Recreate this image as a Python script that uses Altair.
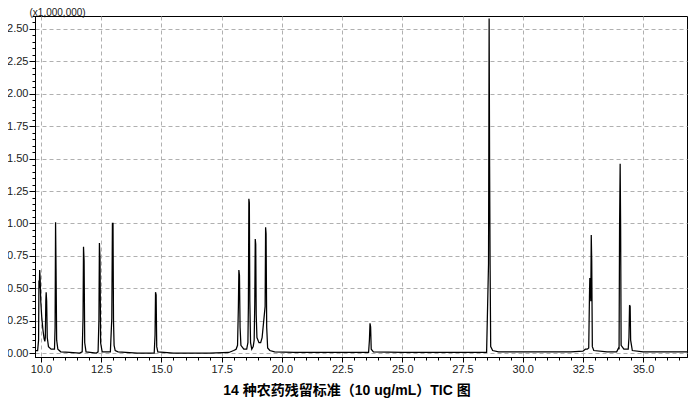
import altair as alt
import pandas as pd
import numpy as np

# Retention time (min) and TIC intensity (x1,000,000)
time_min = [
    9.75, 9.86, 9.90, 9.915, 9.93, 9.945, 9.965, 9.99, 10.03, 10.08, 10.13, 10.16,
    10.18, 10.20, 10.215, 10.235, 10.26, 10.31, 10.42, 10.56, 10.585, 10.605, 10.625,
    10.65, 10.70, 10.82, 11.2, 11.6, 11.71, 11.745, 11.765, 11.79, 11.815, 11.87,
    12.3, 12.37, 12.405, 12.425, 12.45, 12.475, 12.54, 12.88, 12.94, 12.965, 12.99,
    13.01, 13.035, 13.08, 13.2, 14.0, 14.70, 14.735, 14.755, 14.78, 14.805, 14.85,
    15.5, 17.0, 17.8, 18.0, 18.1, 18.16, 18.195, 18.215, 18.24, 18.265, 18.30, 18.42,
    18.54, 18.59, 18.61, 18.63, 18.65, 18.67, 18.70, 18.75, 18.81, 18.85, 18.875,
    18.895, 18.915, 18.935, 18.965, 19.05, 19.12, 19.18, 19.305, 19.325, 19.345, 19.37,
    19.41, 19.5, 19.7, 20.5, 23.0, 23.60, 23.635, 23.66, 23.685, 23.71, 23.80, 25.0,
    28.50, 28.58, 28.605, 28.625, 28.645, 28.67, 28.75, 29.0, 31.5, 32.0, 32.5, 32.6,
    32.68, 32.74, 32.77, 32.785, 32.795, 32.81, 32.825, 32.845, 32.865, 32.89, 32.95,
    33.5, 33.9, 33.98, 34.0, 34.02, 34.045, 34.065, 34.085, 34.2, 34.38, 34.41, 34.435,
    34.46, 34.48, 34.55, 35.0, 36.82,
]
intensity = [
    0.02, 0.02, 0.10, 0.56, 0.50, 0.64, 0.58, 0.40, 0.28, 0.18, 0.11, 0.09,
    0.12, 0.40, 0.47, 0.40, 0.12, 0.05, 0.03, 0.03, 0.20, 1.01, 0.65,
    0.10, 0.03, 0.01, 0.005, 0.0, 0.01, 0.27, 0.82, 0.71, 0.08, 0.01,
    0.0, 0.01, 0.26, 0.85, 0.73, 0.08, 0.01, 0.01, 0.27, 1.00, 1.00,
    0.25, 0.06, 0.02, 0.01, 0.0, 0.0, 0.14, 0.47, 0.45, 0.05, 0.01,
    0.0, 0.0, 0.005, 0.02, 0.03, 0.06, 0.36, 0.64, 0.60, 0.20, 0.06, 0.03,
    0.03, 0.08, 0.36, 1.19, 1.16, 0.40, 0.08, 0.03, 0.05, 0.10, 0.38,
    0.88, 0.84, 0.30, 0.12, 0.08, 0.08, 0.12, 0.36, 0.97, 0.92, 0.20,
    0.04, 0.02, 0.01, 0.005, 0.005, 0.005, 0.10, 0.23, 0.20, 0.03, 0.01, 0.005,
    0.005, 0.69, 2.58, 1.44, 0.69, 0.05, 0.02, 0.01, 0.01, 0.01, 0.015, 0.03,
    0.03, 0.04, 0.43, 0.58, 0.46, 0.55, 0.40, 0.91, 0.71, 0.05, 0.02,
    0.01, 0.01, 0.04, 0.03, 0.96, 1.46, 0.96, 0.06, 0.03, 0.03, 0.12, 0.37,
    0.36, 0.10, 0.02, 0.01, 0.01,
]

x_major = [10.0, 12.5, 15.0, 17.5, 20.0, 22.5, 25.0, 27.5, 30.0, 32.5, 35.0]
y_major = [0.0, 0.25, 0.5, 0.75, 1.0, 1.25, 1.5, 1.75, 2.0, 2.25, 2.5]
x_minor = [round(v, 2) for v in np.arange(10.0, 36.81, 0.5)]
y_minor = [round(v, 2) for v in np.arange(0.0, 2.61, 0.05)]

title_text = "14 种农药残留标准（10 ug/mL）TIC 图"

df = pd.DataFrame({"t": time_min, "v": intensity})

x_scale = alt.Scale(domain=[9.751, 36.82], nice=False, zero=False)
y_scale = alt.Scale(domain=[-0.03, 2.6], nice=False, zero=False)

FONT = "Liberation Sans"

major = alt.Chart(df).mark_line(color="black", strokeWidth=1.25, clip=True).encode(
    x=alt.X("t:Q", scale=x_scale, axis=alt.Axis(
        orient="bottom", values=x_major, format=".1f", title=None,
        grid=True, gridColor="#b0b0b0", gridDash=[4, 3], gridWidth=1,
        tickSize=5, tickColor="black", domainColor="black",
        labelFont=FONT, labelFontSize=11, labelColor="#1a1a1a", labelPadding=1,
        labelFlush=False)),
    y=alt.Y("v:Q", scale=y_scale, axis=alt.Axis(
        orient="left", values=y_major, format=".2f",
        title="(x1,000,000)", titleAngle=0, titleAlign="left",
        titleBaseline="alphabetic", titleX=-6, titleY=-1,
        titleFont=FONT, titleFontSize=10, titleFontWeight="normal", titleColor="#1a1a1a",
        grid=True, gridColor="#b0b0b0", gridDash=[4, 3], gridWidth=1,
        tickSize=6, tickColor="black", domainColor="black",
        labelFont=FONT, labelFontSize=11, labelColor="#1a1a1a", labelPadding=1,
        labelFlush=False)),
)

minor = alt.Chart(df).mark_line(strokeOpacity=0).encode(
    x=alt.X("t:Q", scale=x_scale, axis=alt.Axis(
        orient="bottom", values=x_minor, labels=False, title=None, grid=False,
        tickSize=3, tickColor="black", domainColor="black")),
    y=alt.Y("v:Q", scale=y_scale, axis=alt.Axis(
        orient="left", values=y_minor, labels=False, title=None, grid=False,
        tickSize=3, tickColor="black", domainColor="black")),
)

chart = alt.layer(major, minor).resolve_axis(
    x="independent", y="independent"
).properties(
    width=652,
    height=341,
    padding={"left": 27, "top": 8, "right": 5, "bottom": 42},
    autosize=alt.AutoSizeParams(type="none"),
    title=alt.TitleParams(
        text=title_text, orient="bottom", anchor="middle", dx=-14, offset=10,
        font="Liberation Sans, Noto Sans CJK SC", fontSize=14, fontWeight="bold",
        color="black"),
).configure_view(stroke="black", strokeWidth=1)

chart.save("out.html", embed_options={"renderer": "svg", "actions": False})
